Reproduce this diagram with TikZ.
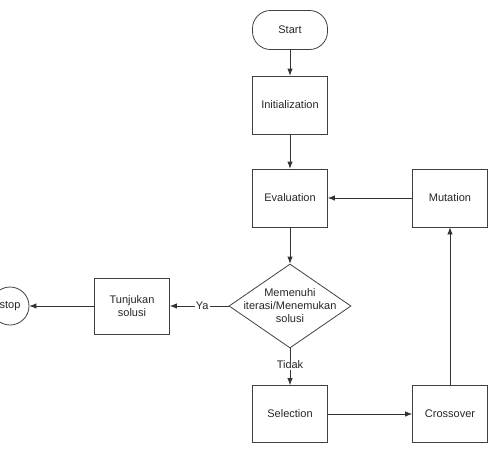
\documentclass[tikz,border=0pt]{standalone}
\usepackage{fontspec}
\setmainfont{Liberation Sans}
\usetikzlibrary{shapes.geometric,arrows.meta}
\begin{document}
\begin{tikzpicture}[x=1pt,y=-1pt,
  every node/.style={font=\fontsize{11}{13}\selectfont, text=black!85},
  box/.style={draw=black!75, line width=0.8pt, minimum width=75pt, minimum height=58pt, align=center, inner sep=1pt},
  term/.style={draw=black!75, line width=0.8pt, rounded corners=18pt, minimum width=75pt, minimum height=39pt},
  dec/.style={draw=black!75, line width=0.8pt, diamond, minimum width=122pt, minimum height=84pt, inner sep=0pt},
  circ/.style={draw=black!75, line width=0.8pt, circle, minimum size=38pt, inner sep=0pt},
  conn/.style={draw=black!80, line width=0.8pt, -{Latex[length=7pt,width=5.5pt]}},
  lbl/.style={fill=white, inner sep=1pt}]
\useasboundingbox (0,0) rectangle (490,448);
\node[term] (start) at (290,30) {Start};
\node[box] (init) at (290,105) {Initialization};
\node[box] (eval) at (290,198) {Evaluation};
\node[box] (mut) at (450,198) {Mutation};
\node[dec] (dec) at (290,306) {};
\node[align=center] (dectext) at (290,306) {Memenuhi\\iterasi/Menemukan\\solusi};
\node[box, minimum height=56pt] (tunj) at (132,306) {Tunjukan\\solusi};
\node[circ] (stop) at (10,306) {stop};
\node[box, minimum height=57pt] (sel) at (290,414) {Selection};
\node[box, minimum height=57pt] (cross) at (450,414) {Crossover};
\draw[conn] (start) -- (init);
\draw[conn] (init) -- (eval);
\draw[conn] (mut) -- (eval);
\draw[conn] (eval) -- (dec);
\draw[conn] (dec) -- node[lbl, pos=0.45] {Ya} (tunj);
\draw[conn] (tunj) -- (stop);
\draw[conn] (dec) -- node[lbl, pos=0.45] {Tidak} (sel);
\draw[conn] (sel) -- (cross);
\draw[conn] (cross) -- (mut);
\end{tikzpicture}
\end{document}
